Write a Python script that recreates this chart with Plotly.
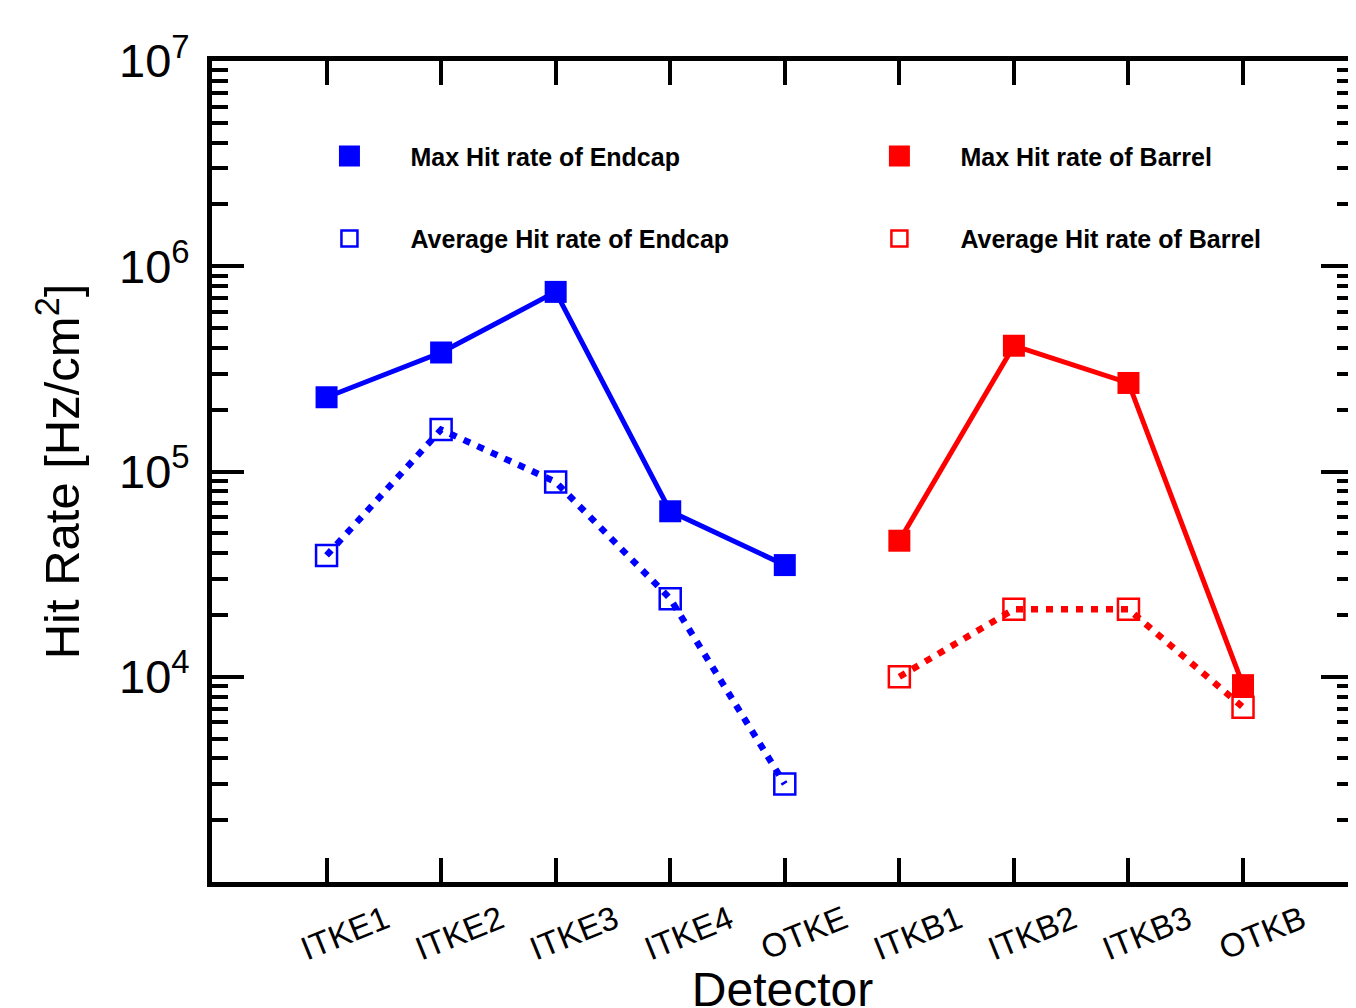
import plotly.graph_objects as go

detectors = ["ITKE1", "ITKE2", "ITKE3", "ITKE4", "OTKE", "ITKB1", "ITKB2", "ITKB3", "OTKB"]
endcap_det = ["ITKE1", "ITKE2", "ITKE3", "ITKE4", "OTKE"]
barrel_det = ["ITKB1", "ITKB2", "ITKB3", "OTKB"]

endcap_max = [2.3e5, 3.8e5, 7.5e5, 6.4e4, 3.5e4]
endcap_avg = [3.9e4, 1.6e5, 8.9e4, 2.4e4, 3.0e3]
barrel_max = [4.6e4, 4.1e5, 2.7e5, 9.1e3]
barrel_avg = [1.0e4, 2.13e4, 2.13e4, 7.1e3]

y_tickvals = [1e4, 1e5, 1e6, 1e7]
y_ticktext = ["10<sup>4</sup>", "10<sup>5</sup>", "10<sup>6</sup>", "10<sup>7</sup>"]

legend_labels = ["Max Hit rate of Endcap", "Average Hit rate of Endcap",
                 "Max Hit rate of Barrel", "Average Hit rate of Barrel"]

BLUE = "#0000FF"
RED = "#FF0000"

fig = go.Figure()

def add_series(xs, ys, color, filled, name, legend, group):
    dash = "solid" if filled else "7px,8px"
    symbol = "square" if filled else "square-open"
    fig.add_trace(go.Scatter(
        x=xs, y=ys, mode="lines+markers",
        line=dict(color=color, width=5 if filled else 6.5, dash=dash),
        marker=dict(symbol=symbol, size=22 if filled else 21, color=color,
                    line=dict(color=color, width=0 if filled else 2.5)),
        showlegend=False, hoverinfo="x+y",
    ))
    fig.add_trace(go.Scatter(
        x=[None], y=[None], mode="markers", name=name,
        marker=dict(symbol=symbol, size=16, color=color,
                    line=dict(color=color, width=5 if filled else 2.5)),
        legend=legend, legendgroup=group, showlegend=True,
    ))

add_series(endcap_det, endcap_max, BLUE, True, legend_labels[0], "legend", "a")
add_series(barrel_det, barrel_max, RED, True, legend_labels[2], "legend2", "c")
add_series(endcap_det, endcap_avg, BLUE, False, legend_labels[1], "legend", "b")
add_series(barrel_det, barrel_avg, RED, False, legend_labels[3], "legend2", "d")

legend_common = dict(
    xanchor="left", yanchor="top", y=0.912,
    bgcolor="rgba(0,0,0,0)", borderwidth=0,
    font=dict(family="Liberation Sans, Arial, sans-serif", size=25, color="black", weight="bold"),
    itemwidth=112, traceorder="grouped", tracegroupgap=47,
    itemclick=False, itemdoubleclick=False,
)

fig.update_layout(
    width=1356, height=1008,
    margin=dict(l=204, r=11, t=53, b=134),
    paper_bgcolor="white", plot_bgcolor="white",
    font=dict(family="Liberation Sans, Arial, sans-serif", color="black"),
    legend=dict(x=0.067, **legend_common),
    legend2=dict(x=0.549, **legend_common),
    xaxis=dict(
        type="category", categoryorder="array", categoryarray=detectors,
        range=[-1, 8.96], automargin=False,
        showline=True, linecolor="black", linewidth=5, mirror="allticks",
        ticks="inside", ticklen=24, tickwidth=4, tickcolor="black",
        tickangle=-22, ticklabelshift=59, ticklabelstandoff=1,
        tickfont=dict(family="Liberation Sans Narrow, Arial Narrow, Liberation Sans, sans-serif", size=33),
        showgrid=False, zeroline=False,
        title=dict(text="Detector", font=dict(size=48), standoff=18),
    ),
    yaxis=dict(
        type="log", range=[3, 7], automargin=False,
        tickmode="array", tickvals=y_tickvals, ticktext=y_ticktext,
        showline=True, linecolor="black", linewidth=5, mirror="allticks",
        ticks="inside", ticklen=32, tickwidth=4, tickcolor="black",
        minor=dict(ticks="inside", ticklen=16, tickwidth=4, tickcolor="black", dtick="D1", showgrid=False),
        tickfont=dict(size=47), ticklabelstandoff=8,
        showgrid=False, zeroline=False,
        title=dict(text="Hit Rate [Hz/cm<sup>2</sup>]", font=dict(size=49), standoff=25),
    ),
)

fig.write_html("out.html")
